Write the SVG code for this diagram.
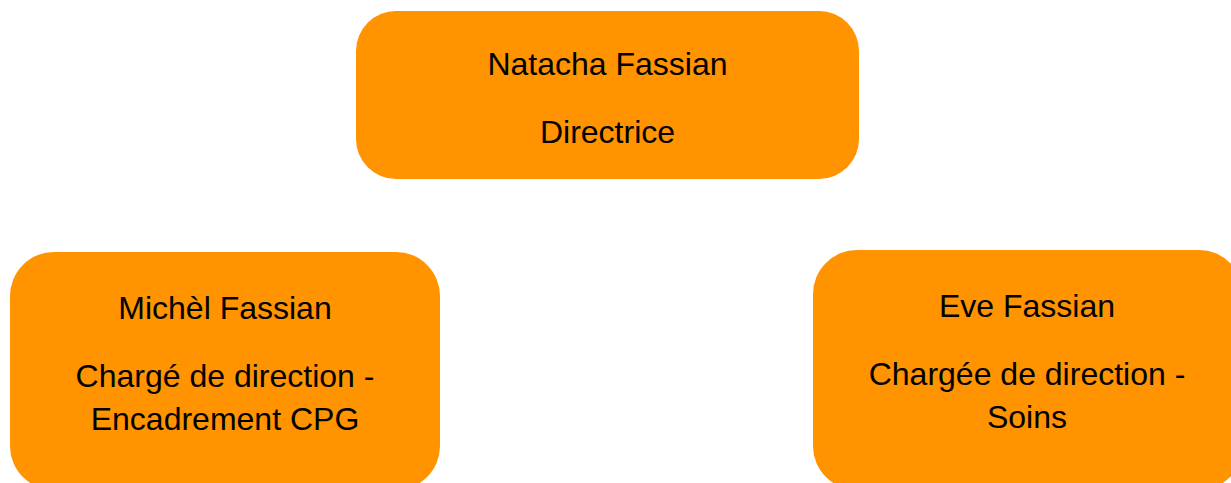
<svg xmlns="http://www.w3.org/2000/svg" width="1231" height="483" viewBox="0 0 1231 483">
<style>
.box{fill:#FF9300;}
.t{font-family:"Liberation Sans",Arial,sans-serif;font-size:32px;fill:#000;text-anchor:middle;}
</style>
<rect width="1231" height="483" fill="#FFFFFF"/>
<g id="connectors"></g>
<g id="node-natacha">
<rect class="box" x="356" y="11" width="503" height="168" rx="40" ry="40"/>
<text class="t" x="607.5" y="75">Natacha Fassian</text>
<text class="t" x="607.5" y="143">Directrice</text>
</g>
<g id="node-michel">
<rect class="box" x="10" y="252" width="430" height="238" rx="44" ry="44"/>
<text class="t" x="225" y="319">Michèl Fassian</text>
<text class="t" x="225" y="387">Chargé de direction -</text>
<text class="t" x="225" y="430">Encadrement CPG</text>
</g>
<g id="node-eve">
<rect class="box" x="813" y="250" width="430" height="240" rx="44" ry="44"/>
<text class="t" x="1027" y="317">Eve Fassian</text>
<text class="t" x="1027" y="385">Chargée de direction -</text>
<text class="t" x="1027" y="428">Soins</text>
</g>
</svg>
